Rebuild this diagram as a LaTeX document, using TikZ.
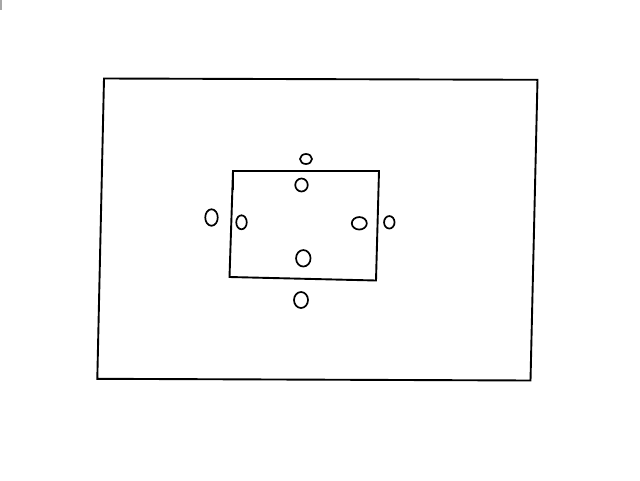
\documentclass[tikz,border=0pt]{standalone}
\usetikzlibrary{shapes.geometric}
\begin{document}
\begin{tikzpicture}[x=1pt,y=-1pt,line width=1.9pt,line join=miter,
  hole/.style={draw,ellipse,inner sep=0pt,line width=1.7pt}]
\useasboundingbox (0,0) rectangle (640,480);
\fill[gray!70] (0,0) rectangle (2,10);
% outer frame
\coordinate (o1) at (104,78.5);
\coordinate (o2) at (537.5,79.8);
\coordinate (o3) at (530.5,380.5);
\coordinate (o4) at (97.3,378.8);
\draw (o1) -- (o2) -- (o3) -- (o4) -- cycle;
% inner frame
\coordinate (i1) at (233,171);
\coordinate (i2) at (379,171);
\coordinate (i3) at (376,280.5);
\coordinate (i4) at (229.5,277);
\draw (i1) -- (i2) -- (i3) -- (i4) -- cycle;
\coordinate (t1) at (233.8,174);
\coordinate (t2) at (233.8,190);
\draw[line width=1.2pt] (t1) -- (t2);
% holes
\node[hole,minimum width=12pt,minimum height=10pt] (to) at (306,159) {};
\node[hole,minimum width=12.5pt,minimum height=13pt] (ti) at (301.5,185) {};
\node[hole,minimum width=12.5pt,minimum height=16.5pt] (lo) at (211.5,217.5) {};
\node[hole,minimum width=10.5pt,minimum height=14pt] (li) at (241.5,222.3) {};
\node[hole,minimum width=15pt,minimum height=12.5pt] (ri) at (359.3,223.3) {};
\node[hole,minimum width=10.5pt,minimum height=12.5pt] (ro) at (389.3,222.3) {};
\node[hole,minimum width=14.5pt,minimum height=16.5pt] (bi) at (303.3,258.3) {};
\node[hole,minimum width=14pt,minimum height=16pt] (bo) at (301,300) {};
\end{tikzpicture}
\end{document}
